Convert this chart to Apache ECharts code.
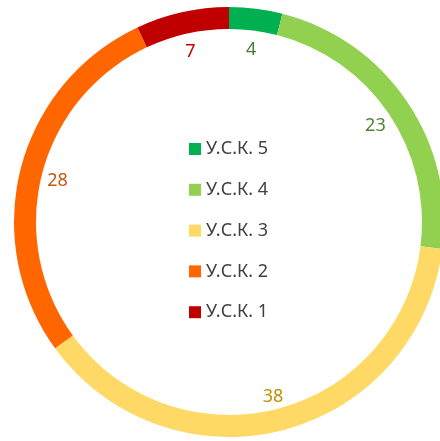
<!DOCTYPE html>
<html>
<head>
<meta charset="utf-8">
<script src="https://cdn.jsdelivr.net/npm/echarts@6/dist/echarts.min.js"></script>
<style>
  html, body { margin: 0; padding: 0; background: #fff; }
  #main { width: 440px; height: 441px; }
</style>
</head>
<body>
<div id="main"></div>
<script>
var names = ["У.С.К. 5", "У.С.К. 4", "У.С.К. 3", "У.С.К. 2", "У.С.К. 1"];
var values = [4, 23, 38, 28, 7];
var colors = ["#00B050", "#92D050", "#FFD966", "#FF6600", "#C00000"];
var labelColors = ["#4E7A2E", "#548235", "#BF9000", "#C55A11", "#C00000"];

var myChart = echarts.init(document.getElementById("main"));

var ringData = names.map(function(n, i) {
  return { name: n, value: values[i], itemStyle: { color: colors[i] } };
});
var labelData = names.map(function(n, i) {
  return {
    name: n,
    value: values[i],
    label: { color: labelColors[i] }
  };
});

var option = {
  animation: false,
  legend: {
    orient: "vertical",
    left: 189,
    top: 138,
    padding: 0,
    itemWidth: 12,
    itemHeight: 12,
    itemGap: 18.8,
    icon: "rect",
    selectedMode: false,
    textStyle: {
      color: "#404040",
      fontSize: 18,
      fontFamily: "Noto Sans",
      lineHeight: 22
    },
    data: names
  },
  series: [
    {
      type: "pie",
      center: [229, 222],
      radius: [193, 215],
      startAngle: 90,
      clockwise: true,
      silent: true,
      label: { show: false },
      labelLine: { show: false },
      data: ringData
    },
    {
      // transparent ring, only carries the value labels
      type: "pie",
      center: [229, 225],
      radius: [167, 181],
      startAngle: 90,
      clockwise: true,
      silent: true,
      itemStyle: { color: "rgba(0,0,0,0)" },
      label: {
        show: true,
        position: "inside",
        formatter: "{c}",
        fontSize: 18,
        fontFamily: "Noto Sans"
      },
      labelLine: { show: false },
      data: labelData
    }
  ]
};
myChart.setOption(option);
</script>
</body>
</html>
